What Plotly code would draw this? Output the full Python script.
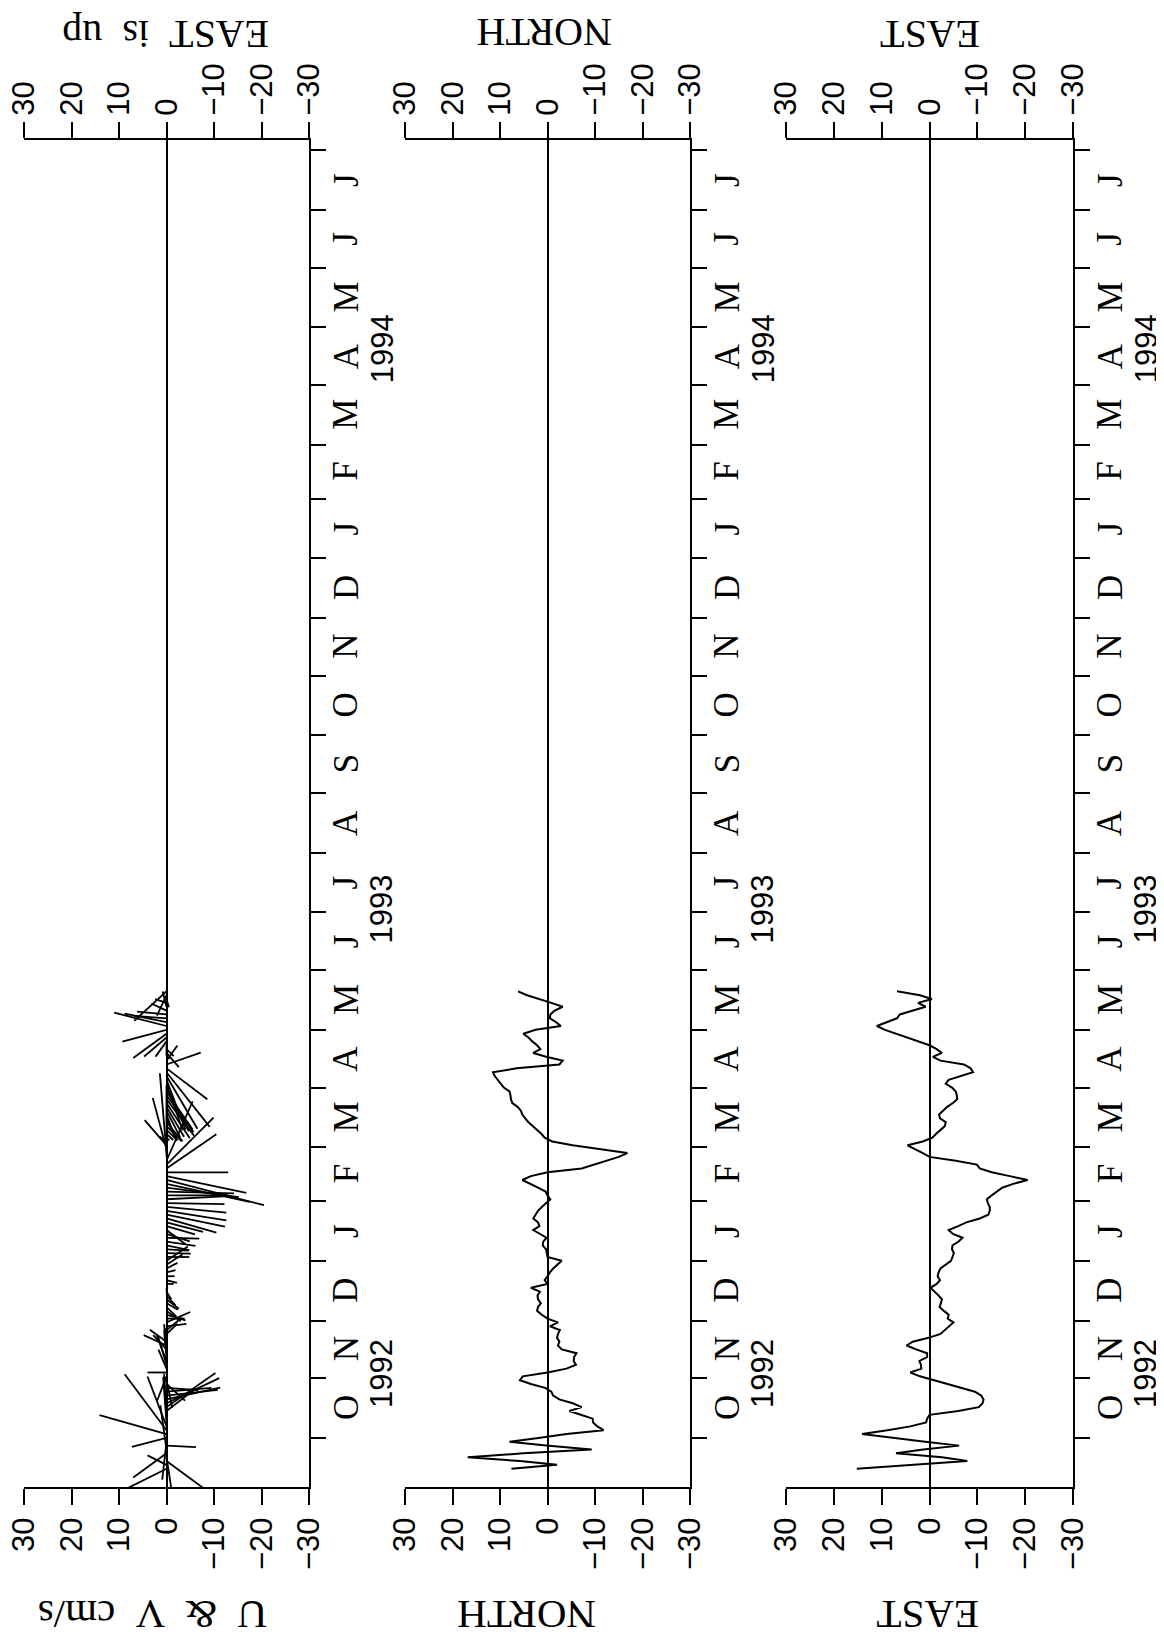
import plotly.graph_objects as go
from datetime import date

# ---------------- data ----------------
# time in days since 1 Oct 1992, 2-day sampling
DAY_START, DAY_STOP, DAY_STEP = -16, 232, 2
days = list(range(DAY_START, DAY_STOP + 1, DAY_STEP))

north = [
    7.6, -2.0, 5.8, 16.8, 5.1, -9.3, 0.3, 8.0, 1.9, -4.0,
    -11.8, -10.5, -9.6, -9.5, -7.0, -4.6, -7.2, -5.3, -2.5, -1.2,
    -0.8, 0.5, 3.5, 5.8, 5.2, 0.0, -4.0, -6.0, -5.5, -5.6,
    -6.1, -3.0, -2.2, -2.5, -2.0, -2.2, -2.6, -0.5, -2.2, 0.0,
    1.2, 2.2, 2.0, 1.4, 2.0, 2.1, 1.6, 3.5, 0.0, 0.6,
    0.0, -0.5, -1.2, -2.2, -3.0, 0.0, 0.1, 0.3, 1.0, 0.9,
    0.2, 1.6, 3.0, 1.7, 2.0, 3.0, 2.5, 2.0, 1.2, 0.2,
    -0.6, 0.0, 0.4, 2.0, 3.8, 5.3, 3.5, 0.0, -7.2, -9.9,
    -12.5, -15.0, -16.8, -10.8, -5.3, -1.0, 0.6, 1.3, 2.2, 3.2,
    4.0, 4.7, 5.3, 5.6, 6.3, 7.4, 7.7, 7.8, 8.0, 9.2,
    9.8, 10.5, 11.1, 11.5, 6.5, -2.5, -3.2, 0.3, 3.0, 1.5,
    2.2, 3.2, 4.0, 5.1, 2.5, -2.8, -1.8, -0.5, -0.6, -1.5,
    -3.2, -0.8, 1.7, 4.3, 6.2,
]

east = [
    15.2, 4.0, -7.9, -2.6, 7.0, 1.3, -6.2, 0.9, 7.3, 14.1,
    8.8, 4.0, 0.7, 0.5, 0.0, -6.0, -10.3, -11.1, -11.3, -10.8,
    -9.5, -6.7, -3.9, -1.2, 2.0, 4.0, 1.7, 1.8, 2.1, 0.5,
    0.5, 2.8, 4.8, 3.5, 0.2, -2.3, -3.2, -4.2, -5.0, -3.8,
    -4.0, -3.0, -2.1, -2.4, -2.6, -1.9, -1.0, -0.2, -1.5, -2.2,
    -1.7, -1.9, -2.3, -3.4, -4.5, -4.8, -5.1, -4.7, -4.8, -6.1,
    -6.9, -4.9, -4.0, -6.0, -7.7, -10.5, -12.3, -12.6, -12.6, -12.2,
    -12.0, -13.0, -14.2, -15.2, -17.5, -20.5, -16.8, -13.0, -10.5, -9.9,
    -5.5, 0.0, 1.4, 2.9, 4.6, 1.4, -0.6, -1.4, -2.3, -3.2,
    -3.4, -2.2, -2.0, -2.9, -3.7, -4.9, -5.8, -5.7, -5.5, -4.7,
    -3.4, -4.0, -6.5, -9.1, -8.6, -7.2, -2.3, -0.7, -2.6, -1.5,
    0.0, 2.3, 4.7, 7.0, 9.3, 11.0, 8.8, 6.8, 6.2, 3.2,
    0.8, 2.4, -0.5, 2.0, 6.8,
]

value_ticks = [30, 20, 10, 0, -10, -20, -30]
value_tick_text = ["30", "20", "10", "0", "\u221210", "\u221220", "\u221230"]
month_letters = "JFMAMJJASOND"
years = [1992, 1993, 1994]
NB = "\u00a0"
titles_top = ["EAST" + NB + " is" + NB + " up", "NORTH", "EAST"]
titles_bottom = ["U" + NB + " &" + NB + " V" + NB + " cm/s", "NORTH", "EAST"]

# ---------------- layout geometry (page pixels) ----------------
PAGE_W, PAGE_H = 1164, 1644
OFF = 8  # default body margin of the html page
W, H = PAGE_W - OFF, PAGE_H - OFF
P_LEFT, P_RIGHT, P_TOP, P_BOT = 24, 1073, 140, 1487   # plot area in page px
ML = P_LEFT - OFF
MT = P_TOP - OFF
MR = W - (P_RIGHT - OFF)
MB = H - (P_BOT - OFF)
PW = W - ML - MR
PH = H - MT - MB
panel_px = [(24, 309), (405, 690), (786, 1073)]
doms = [((a - P_LEFT) / PW, (b - P_LEFT) / PW) for a, b in panel_px]
T0 = date(1992, 10, 1)
Y_LO, Y_HI = -25.5, 674.3
XR = [30, -30]


def dnum(d):
    return (d - T0).days


def px_x(px):
    return (px - P_LEFT) / PW


def px_y(py):
    return (P_BOT - py) / PH


# scale so that sticks use the same px per cm/s in both directions
px_per_unit = (panel_px[0][1] - panel_px[0][0]) / 60.0
px_per_day = PH / (Y_HI - Y_LO)
k = px_per_unit / px_per_day

# month boundaries
month_starts = []
for yy in range(1992, 1995):
    for mm in range(1, 13):
        month_starts.append((yy, mm, dnum(date(yy, mm, 1))))
month_starts.append((1995, 1, dnum(date(1995, 1, 1))))
tick_days = [d for (_, _, d) in month_starts if Y_LO <= d <= Y_HI]
month_labels = []
for i in range(len(month_starts) - 1):
    yy, mm, d0 = month_starts[i]
    d1 = month_starts[i + 1][2]
    if d0 >= Y_LO and d1 <= Y_HI:
        month_labels.append(((d0 + d1) / 2.0, month_letters[mm - 1]))
year_pos = []
for yy in years:
    a = max(Y_LO, dnum(date(yy, 1, 1)))
    b = min(Y_HI, dnum(date(yy + 1, 1, 1)))
    year_pos.append(((a + b) / 2.0, str(yy)))

fig = go.Figure()

# stick plot (EAST horizontal, north pointing down the time axis)
sx, sy = [], []
for d, n, e in zip(days, north, east):
    sx += [0, e, None]
    sy += [d, d - n * k, None]
fig.add_trace(go.Scatter(x=sx, y=sy, mode="lines", line=dict(color="black", width=1.8),
                         xaxis="x", yaxis="y", showlegend=False, hoverinfo="skip"))
fig.add_trace(go.Scatter(x=north, y=days, mode="lines", line=dict(color="black", width=2.0),
                         xaxis="x2", yaxis="y2", showlegend=False))
fig.add_trace(go.Scatter(x=east, y=days, mode="lines", line=dict(color="black", width=2.0),
                         xaxis="x3", yaxis="y3", showlegend=False))
# dummy traces for top axes
for i in range(3):
    fig.add_trace(go.Scatter(x=[None], y=[None], xaxis="x%d" % (i + 4),
                             yaxis="y" if i == 0 else "y%d" % (i + 1),
                             showlegend=False, hoverinfo="skip"))

tickfont = dict(family="Liberation Sans", size=31, color="black")
layout = dict(
    width=W, height=H, template="none",
    paper_bgcolor="white", plot_bgcolor="white",
    margin=dict(l=ML, r=MR, t=MT, b=MB, autoexpand=False),
    showlegend=False,
)
for i in range(3):
    xs = "" if i == 0 else str(i + 1)
    ys = "" if i == 0 else str(i + 1)
    common_x = dict(range=XR, autorange=False, tickmode="array", tickvals=value_ticks,
                    ticktext=value_tick_text, tickangle=-90, tickfont=tickfont,
                    ticklabeloverflow="allow",
                    ticks="outside", ticklen=16, tickwidth=2, tickcolor="black",
                    showline=True, linecolor="black", linewidth=2, showgrid=False,
                    zeroline=False, domain=list(doms[i]), fixedrange=True)
    bx = dict(common_x)
    bx.update(anchor="y" + ys, side="bottom", zeroline=True, zerolinecolor="black",
              zerolinewidth=1.6)
    layout["xaxis" + xs] = bx
    tx = dict(common_x)
    tx.update(anchor="y" + ys, side="top", overlaying="x" + xs)
    layout["xaxis%d" % (i + 4)] = tx
    layout["yaxis" + ys] = dict(
        range=[Y_LO, Y_HI], autorange=False, anchor="x" + xs, side="right",
        domain=[0, 1], tickmode="array", tickvals=tick_days, showticklabels=False,
        ticks="outside", ticklen=15, tickwidth=2, tickcolor="black",
        showline=True, linecolor="black", linewidth=2, showgrid=False,
        zeroline=False, fixedrange=True)
fig.update_layout(**layout)

ann = []
serif = "Liberation Serif"
for i in range(3):
    ax_px = panel_px[i][1]
    yref = "y" if i == 0 else "y%d" % (i + 1)
    for d, t in month_labels:
        ann.append(dict(x=px_x(ax_px + 37), y=d, xref="paper", yref=yref, text=t,
                        showarrow=False, textangle=-90, xanchor="center", yanchor="middle",
                        font=dict(family=serif, size=35, color="black")))
    for d, t in year_pos:
        ann.append(dict(x=px_x(ax_px + 73), y=d, xref="paper", yref=yref, text=t,
                        showarrow=False, textangle=-90, xanchor="center", yanchor="middle",
                        font=dict(family="Liberation Sans", size=31, color="black")))

top_centers = [(166, 34), (545, 33), (930, 34)]
bottom_centers = [(153, 1615), (527, 1615), (928, 1615)]
for (cx, cy), t in zip(top_centers, titles_top):
    ann.append(dict(x=px_x(cx), y=px_y(cy), xref="paper", yref="paper", text=t,
                    showarrow=False, textangle=180, xanchor="center", yanchor="middle",
                    font=dict(family=serif, size=40, color="black")))
for (cx, cy), t in zip(bottom_centers, titles_bottom):
    ann.append(dict(x=px_x(cx), y=px_y(cy), xref="paper", yref="paper", text=t,
                    showarrow=False, textangle=180, xanchor="center", yanchor="middle",
                    font=dict(family=serif, size=41, color="black")))
fig.update_layout(annotations=ann)

fig.write_html("out.html")
